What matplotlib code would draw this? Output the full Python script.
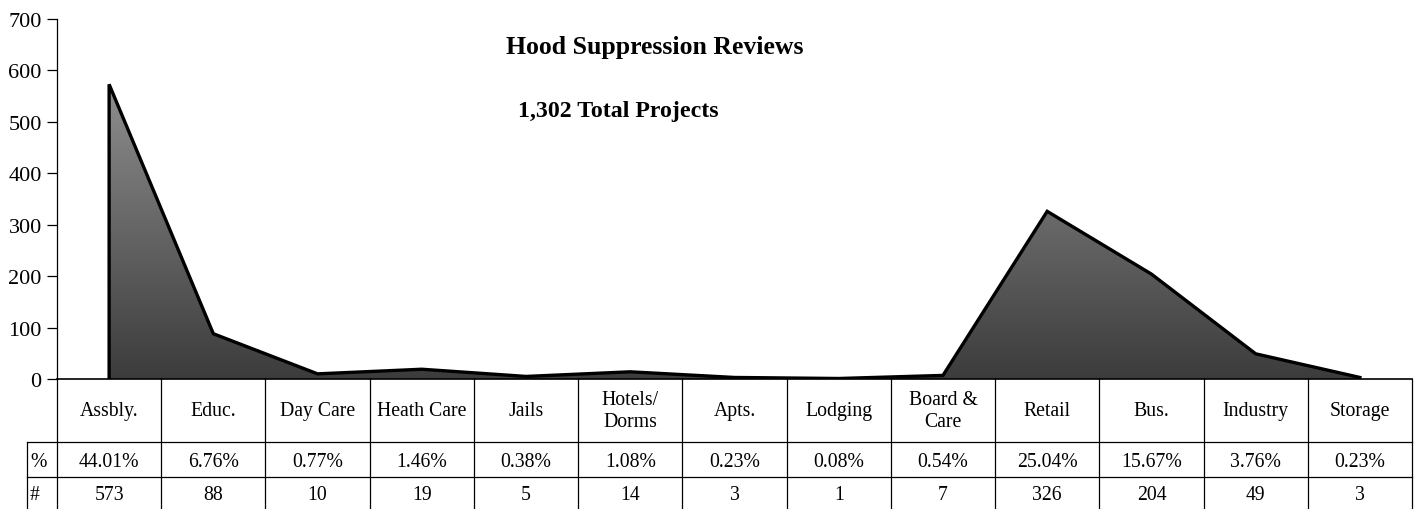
import numpy as np
import matplotlib
matplotlib.use("Agg")
import matplotlib.pyplot as plt
from matplotlib.lines import Line2D
from matplotlib.transforms import blended_transform_factory
from matplotlib.colors import LinearSegmentedColormap

categories = ["Assbly.", "Educ.", "Day Care", "Heath Care", "Jails",
              "Hotels/\nDorms", "Apts.", "Lodging", "Board &\nCare",
              "Retail", "Bus.", "Industry", "Storage"]
counts = [573, 88, 10, 19, 5, 14, 3, 1, 7, 326, 204, 49, 3]
pct_labels = ["44.01%", "6.76%", "0.77%", "1.46%", "0.38%", "1.08%",
              "0.23%", "0.08%", "0.54%", "25.04%", "15.67%", "3.76%", "0.23%"]
yticks = [0, 100, 200, 300, 400, 500, 600, 700]

W, H = 1422, 510
FONT = "Liberation Serif"
FS = 14.2

fig = plt.figure(figsize=(W / 100, H / 100), dpi=100)
ax = fig.add_axes([57 / W, 1 - 380 / H, (1412 - 57) / W, (380 - 20) / H])

x = np.arange(len(categories))

# gradient fill clipped to the area polygon
poly = ax.fill_between(x, 0, counts, facecolor="none", edgecolor="none")
grad = LinearSegmentedColormap.from_list("g", ["#3c3c3c", "#8e8e8e"])
img = ax.imshow(np.linspace(0, 1, 256).reshape(-1, 1), cmap=grad, aspect="auto",
                origin="lower", extent=[x[0], x[-1], 0, max(counts)], zorder=2)
img.set_clip_path(poly.get_paths()[0], transform=ax.transData)
ax.set_xlim(-0.5, len(categories) - 0.5)
ax.set_ylim(0, 700)

ax.plot(np.r_[x[0], x], np.r_[0, counts], color="black", lw=2.4, zorder=3,
        solid_joinstyle="miter")

ax.set_yticks(yticks)
ax.set_yticklabels([str(v) for v in yticks], fontsize=16, family=FONT)
ax.tick_params(axis="y", length=7, width=0.9, pad=4)
ax.set_xticks([])
for s in ["top", "right", "bottom"]:
    ax.spines[s].set_visible(False)
ax.spines["left"].set_linewidth(0.9)
ax.axhline(0, color="black", lw=1.2, zorder=4, clip_on=False)

ax.text(0.441, 0.905, "Hood Suppression Reviews", transform=ax.transAxes,
        ha="center", va="baseline", fontsize=18.5, fontweight="bold", family=FONT)
ax.text(0.414, 0.73, "1,302 Total Projects", transform=ax.transAxes,
        ha="center", va="baseline", fontsize=17.2, fontweight="bold", family=FONT)

# data table below the axis
tr = blended_transform_factory(ax.transData, fig.transFigure)
y0, y1, y2, yb = 1 - 380 / H, 1 - 443 / H, 1 - 478 / H, 0.0
xl, xr = -0.5, len(categories) - 0.5
xh = xl - 30 / 104
lk = dict(color="black", lw=0.9, transform=tr, clip_on=False)
for b in np.arange(len(categories) + 1) - 0.5:
    fig.add_artist(Line2D([b, b], [y0, yb], **lk))
fig.add_artist(Line2D([xh, xh], [y1, yb], **lk))
fig.add_artist(Line2D([xh, xr], [y1, y1], **lk))
fig.add_artist(Line2D([xh, xr], [y2, y2], **lk))

for i, name in enumerate(categories):
    fig.text(i, (y0 + y1) / 2, name, transform=tr, ha="center", va="center",
             fontsize=FS, family=FONT, linespacing=1.15)
    fig.text(i, (y1 + y2) / 2 - 0.004, pct_labels[i], transform=tr, ha="center",
             va="center", fontsize=FS, family=FONT)
    fig.text(i, (y2 + yb) / 2 - 0.003, str(counts[i]), transform=tr, ha="center",
             va="center", fontsize=FS, family=FONT)
fig.text(xh + 0.03, (y1 + y2) / 2 - 0.004, "%", transform=tr, ha="left",
         va="center", fontsize=FS, family=FONT)
fig.text(xh + 0.03, (y2 + yb) / 2 - 0.003, "#", transform=tr, ha="left",
         va="center", fontsize=FS, family=FONT)

fig.savefig("out.png", dpi=100)
